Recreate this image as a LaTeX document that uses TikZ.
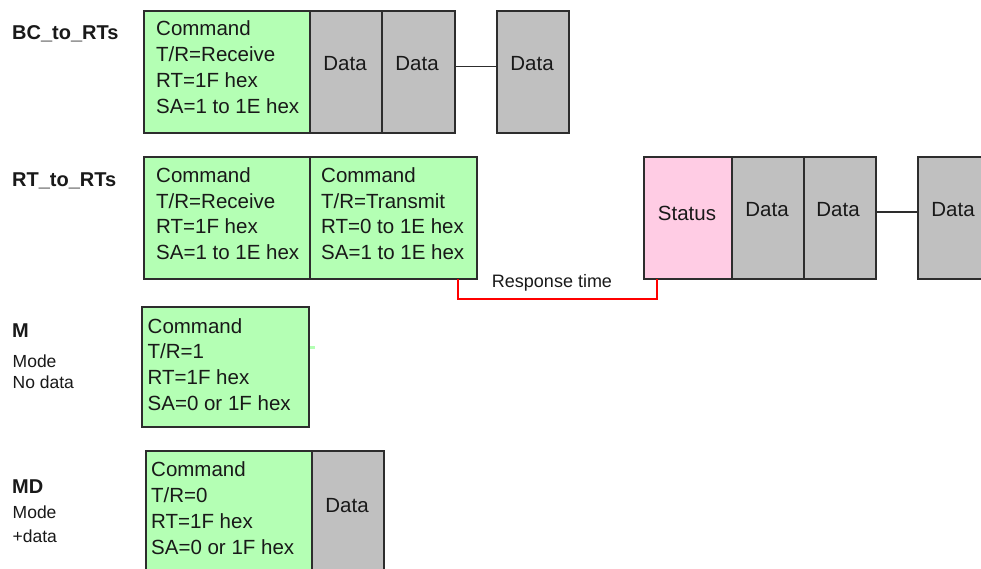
\documentclass[tikz,border=0pt]{standalone}
\usepackage{fontspec}
\setmainfont{Liberation Sans}
\definecolor{cmdgreen}{RGB}{180,255,180}
\definecolor{datagrey}{RGB}{192,192,192}
\definecolor{statpink}{RGB}{255,204,228}
\definecolor{edgegrey}{RGB}{45,45,45}
\definecolor{txt}{RGB}{25,25,25}
\tikzset{
  frame/.style={draw=edgegrey, line width=1.1pt, inner sep=0pt, outer sep=0pt, anchor=north west},
  cmdbox/.style={frame, fill=cmdgreen},
  databox/.style={frame, fill=datagrey},
  statbox/.style={frame, fill=statpink},
  boxtext/.style={font=\fontsize{20.5}{25.8}\selectfont, text=txt, inner sep=0pt, align=left, anchor=west},
  celltext/.style={font=\fontsize{20.5}{24}\selectfont, text=txt, inner sep=0pt, anchor=base},
  rowlabel/.style={font=\fontsize{20}{22}\selectfont\bfseries, text=txt, inner sep=0pt, anchor=base west},
  sublabel/.style={font=\fontsize{17.5}{20}\selectfont, text=txt, inner sep=0pt, anchor=base west},
  link/.style={draw=edgegrey, line width=1.3pt},
  resp/.style={draw=red, line width=1.2pt}
}
\begin{document}
\begin{tikzpicture}[x=1pt,y=-1pt]
\useasboundingbox (0,0) rectangle (981,569);
\clip (0,0) rectangle (981,569);
\fill[white] (0,0) rectangle (981,569);

% ---------- Row 1: BC_to_RTs ----------
\node[rowlabel] (lab1) at (12,39.3) {BC\_to\_RTs};
\node[cmdbox, minimum width=166pt, minimum height=122pt] (c1) at (144,11) {};
\node[databox, minimum width=72pt, minimum height=122pt] (d1) at (310,11) {};
\node[databox, minimum width=73pt, minimum height=122pt] (d2) at (382,11) {};
\node[databox, minimum width=72pt, minimum height=122pt] (d3) at (497,11) {};
\node[boxtext] (t1) at (156,67) {Command\\T/R=Receive\\RT=1F hex\\SA=1 to 1E hex};
\node[celltext] (t1d1) at (345,71) {Data};
\node[celltext] (t1d2) at (417,71) {Data};
\node[celltext] (t1d3) at (532,71) {Data};
\draw[link] ([yshift=5.3pt]d2.east) -- ([yshift=5.3pt]d3.west);

% ---------- Row 2: RT_to_RTs ----------
\node[rowlabel] (lab2) at (12,187) {RT\_to\_RTs};
\node[cmdbox, minimum width=166pt, minimum height=122pt] (c2a) at (144,157) {};
\node[cmdbox, minimum width=167pt, minimum height=122pt] (c2b) at (310,157) {};
\node[statbox, minimum width=88pt, minimum height=122pt] (st) at (644,157) {};
\node[databox, minimum width=72pt, minimum height=122pt] (d4) at (732,157) {};
\node[databox, minimum width=72pt, minimum height=122pt] (d5) at (804,157) {};
\node[databox, minimum width=72pt, minimum height=122pt] (d6) at (918,157) {};
\node[boxtext] (t2a) at (156,213.7) {Command\\T/R=Receive\\RT=1F hex\\SA=1 to 1E hex};
\node[boxtext] (t2b) at (321,213.7) {Command\\T/R=Transmit\\RT=0 to 1E hex\\SA=1 to 1E hex};
\node[celltext] (t2s) at (687,220) {Status};
\node[celltext] (t2d1) at (767,217) {Data};
\node[celltext] (t2d2) at (838,217) {Data};
\node[celltext] (t2d3) at (953,217) {Data};
\draw[link] ([yshift=6pt]d5.east) -- ([yshift=6pt]d6.west);
\draw[resp] ([xshift=-19pt]c2b.south east) -- ++(0,20) -| ([xshift=13pt]st.south west);
\node[font=\fontsize{18}{20}\selectfont, text=txt, inner sep=0pt, anchor=base] (rt) at (552,287) {Response time};

% ---------- Row 3: M ----------
\node[rowlabel] (lab3) at (12,337) {M};
\node[sublabel] (lab3a) at (12.5,367) {Mode};
\node[sublabel] (lab3b) at (12.5,388) {No data};
\node[cmdbox, minimum width=167pt, minimum height=120pt] (m) at (142,307) {};
\fill[cmdgreen] (310,345.5) rectangle (315,348.5);
\node[boxtext] (t3) at (147.5,364.5) {Command\\T/R=1\\RT=1F hex\\SA=0 or 1F hex};

% ---------- Row 4: MD ----------
\node[rowlabel] (lab4) at (12,493) {MD};
\node[sublabel] (lab4a) at (12.5,518) {Mode};
\node[sublabel] (lab4b) at (12.5,542) {+data};
\node[cmdbox, minimum width=166pt, minimum height=140pt] (md) at (146,451) {};
\node[databox, minimum width=72pt, minimum height=140pt] (d7) at (312,451) {};
\node[boxtext] (t4) at (151,508) {Command\\T/R=0\\RT=1F hex\\SA=0 or 1F hex};
\node[celltext] (t4d) at (347,512) {Data};
\end{tikzpicture}
\end{document}
